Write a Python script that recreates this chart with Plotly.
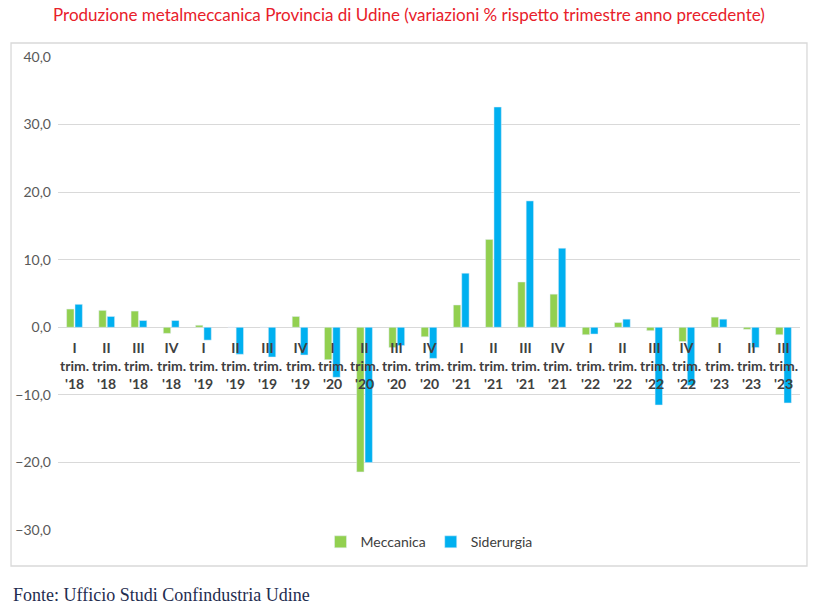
import plotly.graph_objects as go

quarters = ["I", "II", "III", "IV"] * 6
years = ["'18"] * 4 + ["'19"] * 4 + ["'20"] * 4 + ["'21"] * 4 + ["'22"] * 4 + ["'23"] * 3
quarters = quarters[:23]
categories = [f"{q} trim. {y}" for q, y in zip(quarters, years)]

meccanica = [2.7, 2.5, 2.4, -0.9, 0.3, 0.0, 0.0, 1.6, -4.8, -21.4, -3.0, -1.4,
             3.3, 13.0, 6.7, 4.9, -1.1, 0.7, -0.5, -2.1, 1.5, -0.3, -1.1]
siderurgia = [3.4, 1.6, 1.0, 1.0, -1.9, -4.0, -4.4, -4.1, -7.4, -20.0, -2.7, -4.6,
              8.0, 32.6, 18.7, 11.7, -1.0, 1.2, -11.5, -8.6, 1.2, -3.0, -11.2]

yticks = [-30, -20, -10, 0, 10, 20, 30, 40]

fig = go.Figure()
fig.add_bar(x=categories, y=meccanica, name="Meccanica", marker_color="#92D050")
fig.add_bar(x=categories, y=siderurgia, name="Siderurgia", marker_color="#00B0F0")

for cat, q, y in zip(categories, quarters, years):
    fig.add_annotation(x=cat, y=0, xref="x", yref="y", yanchor="top", yshift=-10,
                       text=f"<b>{q}<br>trim.<br>{y}</b>", showarrow=False,
                       font=dict(family="Lato, sans-serif", size=14, color="#404040"),
                       align="center")

fig.add_annotation(x=0.5, y=1, xref="paper", yref="paper", xanchor="center", yanchor="middle",
                   yshift=43, xshift=-20,
                   text="Produzione metalmeccanica Provincia di Udine (variazioni % rispetto trimestre anno precedente)",
                   showarrow=False, font=dict(family="Lato, sans-serif", size=17, color="#E8202A"))
fig.add_annotation(x=0.0, y=0.0, xref="paper", yref="paper", xanchor="left", yanchor="middle",
                   xshift=-47, yshift=-65, text="Fonte: Ufficio Studi Confindustria Udine",
                   showarrow=False, font=dict(family="Liberation Serif, serif", size=18, color="#1F2D50"))

fig.add_shape(type="rect", xref="paper", yref="paper", x0=-0.0633, x1=1.0094, y0=-0.0761, y1=1.0296,
              line=dict(color="#D9D9D9", width=1.3), fillcolor="rgba(0,0,0,0)", layer="below")

fig.update_layout(
    width=818, height=610,
    margin=dict(l=58, r=18, t=57, b=80),
    paper_bgcolor="white", plot_bgcolor="white",
    barmode="group", bargap=0.48, bargroupgap=0.12,
    separators=",.",
    showlegend=True,
    legend=dict(orientation="h", x=0.5, xanchor="center", y=0.008, yanchor="top",
                bgcolor="rgba(0,0,0,0)",
                font=dict(family="Lato, sans-serif", size=14, color="#404040"),
                itemwidth=30, traceorder="normal"),
    xaxis=dict(showticklabels=False, showgrid=False, zeroline=False, showline=False, ticks=""),
    yaxis=dict(range=[-30, 40], tickvals=yticks, tickformat=".1f", showgrid=True,
               gridcolor="#D9D9D9", gridwidth=1, zeroline=True, zerolinecolor="#D9D9D9",
               zerolinewidth=1, showline=False,
               tickfont=dict(family="Lato, sans-serif", size=14, color="#595959"),
               ticklabelstandoff=6),
)

fig.write_html("out.html")
